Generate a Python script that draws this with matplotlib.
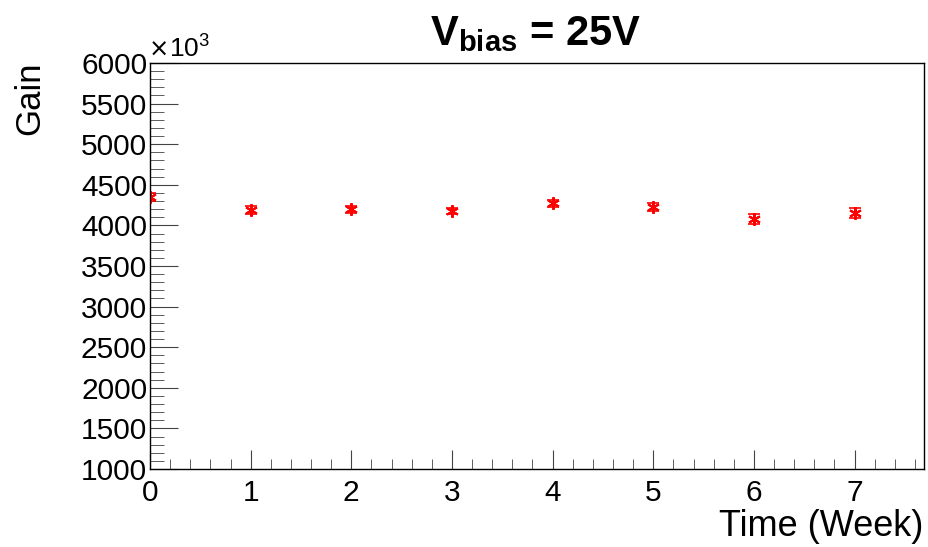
import matplotlib.pyplot as plt
from matplotlib.ticker import MultipleLocator

plt.rcParams['font.family'] = ['Liberation Sans', 'DejaVu Sans']
plt.rcParams['mathtext.fontset'] = 'custom'
plt.rcParams['mathtext.rm'] = 'Liberation Sans'
plt.rcParams['mathtext.bf'] = 'Liberation Sans:bold'

weeks = [0, 1, 2, 3, 4, 5, 6, 7]
gain = [4350, 4190, 4200, 4175, 4270, 4230, 4075, 4150]
gain_err = [45, 45, 45, 40, 45, 50, 60, 60]

fig = plt.figure(figsize=(9.29, 5.47), dpi=100)
ax = fig.add_axes([150 / 929, 1 - 469 / 547, 774 / 929, 406 / 547])

ax.errorbar(weeks, gain, yerr=gain_err, fmt='none', ecolor='red',
            elinewidth=1.2, capsize=4, capthick=1.2)
ax.plot(weeks, gain, linestyle='none', marker=(6, 2, 0), color='red',
        markersize=9, markeredgewidth=1.5)

ax.set_xlim(0, 7.69)
ax.set_ylim(1000, 6000)
ax.xaxis.set_major_locator(MultipleLocator(1))
ax.xaxis.set_minor_locator(MultipleLocator(0.2))
ax.yaxis.set_major_locator(MultipleLocator(500))
ax.yaxis.set_minor_locator(MultipleLocator(100))

ax.tick_params(axis='both', which='both', direction='in', top=False, right=False,
               labelsize=21.5, color='#444444')
ax.tick_params(axis='y', which='major', length=20, pad=2)
ax.tick_params(axis='y', which='minor', length=10)
ax.tick_params(axis='x', which='major', length=14, pad=7)
ax.tick_params(axis='x', which='minor', length=7)
for s in ax.spines.values():
    s.set_linewidth(1.0)

# x10^3 multiplier, the cross taken from DejaVu since Liberation's is tiny
ax.annotate('\u00d7', xy=(0, 1), xycoords='axes fraction', xytext=(-1, 1),
            textcoords='offset points', fontsize=17.5, family='DejaVu Sans',
            ha='left', va='bottom')
ax.annotate('10$^{3}$', xy=(0, 1), xycoords='axes fraction', xytext=(14, 1),
            textcoords='offset points', fontsize=19, ha='left', va='bottom')

fig.text(535 / 929, 1 - 34 / 547, r'$\mathbf{V_{bias}}$ = 25V',
         fontsize=30, fontweight='bold', ha='center', va='center')
fig.text(30 / 929, 1 - 62 / 547, 'Gain', fontsize=25, rotation=90,
         ha='center', va='top')
fig.text(923 / 929, 1 - 526 / 547, 'Time (Week)', fontsize=26,
         ha='right', va='center')

fig.savefig('out.png', dpi=100)
